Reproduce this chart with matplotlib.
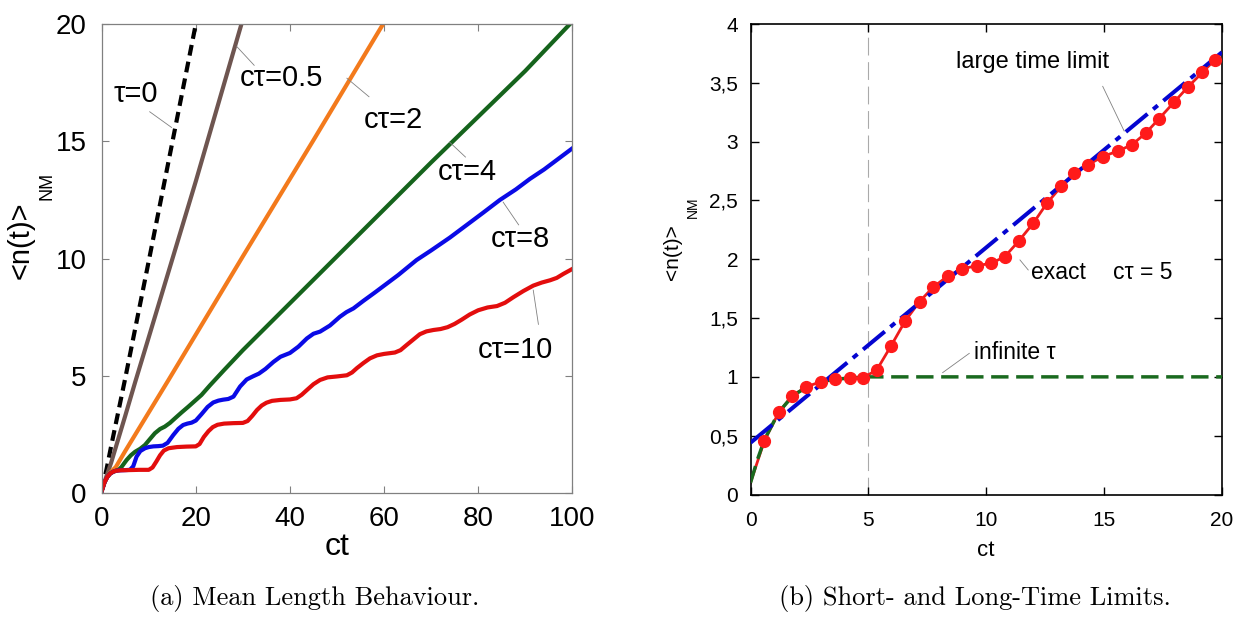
import matplotlib
matplotlib.use("Agg")
import matplotlib.pyplot as plt

plt.rcParams['font.family'] = ['Liberation Sans', 'DejaVu Sans']

# ---------------- data: panel (a) ----------------
ct_tau0 = [0, 0.5, 1, 2, 5, 10, 15, 20]
n_tau0 = [0.1, 0.55, 1.0, 2.0, 4.9, 9.9, 14.95, 20.0]

ct_05 = [0, 0.5, 1, 2, 5, 7.1, 10, 20, 29.7]
n_05 = [0.1, 0.42, 0.72, 1.3, 3.3, 4.73, 6.65, 13.3, 20.0]

ct_2 = [0, 0.6, 1.2, 1.8, 2.4, 3, 5, 14.2, 30, 45, 59.8]
n_2 = [0.1, 0.47, 0.72, 0.88, 1.0, 1.12, 1.8, 4.83, 10.1, 15.05, 20.0]

ct_4 = [0, 0.6, 1.2, 1.8, 2.4, 3, 3.6, 4.2, 5.3, 6.2, 7.1, 8.2, 9.2, 10.2, 11.3,
        12.4, 13.4, 14.5, 15.6, 17, 18.4, 19.8, 21.2, 23, 26, 30, 40, 50, 60, 70,
        80, 90, 99.5]
n_4 = [0.1, 0.47, 0.7, 0.84, 0.915, 0.96, 1.0, 1.12, 1.42, 1.62, 1.77, 1.9, 2.06,
       2.3, 2.56, 2.74, 2.84, 3.0, 3.2, 3.45, 3.69, 3.94, 4.19, 4.6, 5.25, 6.1,
       8.1, 10.1, 12.1, 14.1, 16.05, 18.0, 20.0]

ct_8 = [0, 0.6, 1.2, 1.8, 2.4, 3, 4, 5.2, 6, 6.7, 7.4, 8.2, 9.2, 10, 11, 12, 13,
        14, 15.2, 16.3, 17.3, 18.2, 19.1, 20, 21.2, 22.5, 23.7, 24.8, 25.8, 26.9,
        28, 29.4, 30.8, 32.2, 33.4, 34.8, 36.5, 38, 40, 41.8, 43.6, 45, 46.4,
        48.5, 50.6, 52, 53.5, 55.6, 58, 60, 63, 66.9, 70, 74, 78, 81, 84.6, 88,
        91, 94, 97, 100]
n_8 = [0.1, 0.47, 0.7, 0.84, 0.915, 0.96, 0.98, 0.99, 1.0, 1.15, 1.56, 1.8, 1.92,
       1.97, 2.0, 2.01, 2.03, 2.15, 2.48, 2.75, 2.91, 2.97, 3.01, 3.1, 3.37, 3.68,
       3.87, 3.95, 3.99, 4.02, 4.12, 4.55, 4.85, 4.99, 5.1, 5.3, 5.6, 5.82, 5.98,
       6.25, 6.6, 6.8, 6.89, 7.15, 7.52, 7.72, 7.88, 8.2, 8.55, 8.85, 9.3, 9.94,
       10.35, 10.9, 11.5, 11.95, 12.5, 12.95, 13.4, 13.8, 14.25, 14.7]

ct_10 = [0, 0.6, 1.2, 1.8, 2.4, 3, 4, 6, 8, 10, 10.8, 11.6, 12.4, 13.2, 14.2, 16,
         18, 20, 20.8, 21.7, 22.7, 23.6, 24.6, 26, 28, 30, 31, 32, 33, 34, 35,
         36.2, 38, 40, 41.4, 42.5, 43.6, 45, 46.4, 48, 50, 52.1, 53.2, 54.2, 55.6,
         57, 58.5, 60, 62.3, 63.5, 64.8, 66.2, 67.6, 69, 70.5, 72, 73.5, 75, 76.5,
         78.2, 80, 82, 84, 85.7, 87.5, 89.6, 91.7, 93.5, 95.3, 96.7, 98.1, 100]
n_10 = [0.1, 0.47, 0.7, 0.84, 0.915, 0.96, 0.98, 0.99, 1.0, 1.0, 1.1, 1.35, 1.62,
        1.82, 1.92, 1.97, 1.99, 2.0, 2.1, 2.4, 2.65, 2.82, 2.92, 2.97, 2.99, 3.0,
        3.08, 3.3, 3.55, 3.74, 3.86, 3.94, 3.98, 4.0, 4.05, 4.2, 4.4, 4.65, 4.83,
        4.94, 4.98, 5.03, 5.15, 5.33, 5.55, 5.75, 5.88, 5.94, 6.0, 6.1, 6.32, 6.55,
        6.78, 6.9, 6.96, 7.0, 7.08, 7.22, 7.4, 7.62, 7.8, 7.92, 7.98, 8.12, 8.36,
        8.62, 8.85, 8.98, 9.08, 9.18, 9.35, 9.56]

labels_a = ["τ=0", "cτ=0.5", "cτ=2", "cτ=4", "cτ=8", "cτ=10"]
xticks_a = [0, 20, 40, 60, 80, 100]
yticks_a = [0, 5, 10, 15, 20]

# ---------------- data: panel (b) ----------------
ct_exact = [0, 0.59, 1.2, 1.75, 2.36, 2.97, 3.6, 4.2, 4.76, 5.35, 5.96, 6.57, 7.17,
            7.75, 8.36, 8.97, 9.59, 10.2, 10.78, 11.37, 12.0, 12.57, 13.18, 13.73,
            14.33, 14.95, 15.59, 16.17, 16.76, 17.33, 17.97, 18.56, 19.17, 19.7]
n_exact = [0.1, 0.458, 0.698, 0.836, 0.915, 0.958, 0.978, 0.992, 0.992, 1.057,
           1.263, 1.478, 1.64, 1.763, 1.856, 1.919, 1.944, 1.966, 2.02, 2.153,
           2.308, 2.475, 2.619, 2.735, 2.805, 2.873, 2.921, 2.972, 3.071, 3.195,
           3.336, 3.466, 3.588, 3.698]

ct_inf = [0, 0.3, 0.6, 1.2, 1.8, 2.4, 3, 3.6, 4.2, 5, 20]
n_inf = [0.1, 0.3, 0.47, 0.7, 0.84, 0.915, 0.96, 0.98, 0.99, 1.0, 1.0]

ct_large = [0, 20]
n_large = [0.44, 3.76]

tau_b = 5
xticks_b = [0, 5, 10, 15, 20]
yticks_b = [0, 0.5, 1, 1.5, 2, 2.5, 3, 3.5, 4]
yticklabels_b = ["0", "0,5", "1", "1,5", "2", "2,5", "3", "3,5", "4"]

# ---------------- figure ----------------
fig = plt.figure(figsize=(12.47, 6.19), dpi=100)
W, H = 1247, 619

def px_axes(x0, y0, x1, y1):
    return fig.add_axes([x0 / W, 1 - y1 / H, (x1 - x0) / W, (y1 - y0) / H])

# ---- panel (a)
ax1 = px_axes(101.7, 24, 572.3, 493.3)
ax1.plot(ct_tau0, n_tau0, color='black', lw=3, linestyle=(0, (2.6, 1.5)),
         dash_capstyle='butt')
ax1.plot(ct_05, n_05, color='#6e5550', lw=3)
ax1.plot(ct_2, n_2, color='#f37a1c', lw=3)
ax1.plot(ct_4, n_4, color='#15631c', lw=3)
ax1.plot(ct_8, n_8, color='#0a0ae6', lw=3)
ax1.plot(ct_10, n_10, color='#e30d0d', lw=3)

ax1.set_xlim(0, 100)
ax1.set_ylim(0, 20)
ax1.set_xticks(xticks_a)
ax1.set_yticks(yticks_a)
ax1.tick_params(direction='in', length=5, width=0.8, color='#808080',
                labelsize=20, top=True, right=True)
ax1.tick_params(axis='x', pad=9)
ax1.tick_params(axis='y', pad=11)
for s in ax1.spines.values():
    s.set_color('#808080')
    s.set_linewidth(0.9)
ax1.set_xlabel('ct', fontsize=23, labelpad=0)
ax1.set_ylabel('<n(t)>', fontsize=21, labelpad=4)
ax1.yaxis.set_label_coords(-0.142, 0.54)
ax1.text(-0.117, 0.655, 'NM', transform=ax1.transAxes, rotation=90,
         fontsize=13, ha='center', va='center')

# annotations (text pos, leader start, leader end) in data coords
ann_a = [((7.2, 17.0), (10.2, 16.26), (14.85, 15.59)),
         ((38.2, 17.68), (28.7, 19.04), (32.4, 18.24)),
         ((61.9, 15.9), (52.1, 17.69), (56.8, 16.9)),
         ((77.6, 13.7), (73.9, 14.97), (77.3, 14.33)),
         ((89.0, 10.84), (85.3, 12.41), (88.6, 11.44)),
         ((88.0, 6.12), (91.7, 8.66), (92.8, 7.2))]
for lab, (tp, l0, l1) in zip(labels_a, ann_a):
    ax1.text(tp[0], tp[1], lab, fontsize=21, ha='center', va='center')
    ax1.plot([l0[0], l1[0]], [l0[1], l1[1]], color='#808080', lw=0.6)

# ---- panel (b)
ax2 = px_axes(750.5, 24, 1222, 494.5)
ax2.axvline(tau_b, color='#aaaaaa', lw=0.8, linestyle=(0, (16, 6)), zorder=1)
ax2.plot(ct_exact, n_exact, color='#ee1c1c', lw=2, zorder=2)
ax2.plot(ct_inf, n_inf, color='#1a6a1f', lw=2.5, linestyle=(0, (5, 2.2)), zorder=3)
ax2.plot(ct_large, n_large, color='#0505d0', lw=2.9,
         linestyle=(0, (7, 1.8, 1.5, 1.8)), zorder=3)
ax2.plot(ct_exact[1:], n_exact[1:], linestyle='none', marker='o', ms=8.5,
         color='#ff1a1a', mec='#ff1a1a', zorder=4)

ax2.set_xlim(0, 20)
ax2.set_ylim(0, 4)
ax2.set_xticks(xticks_b)
ax2.set_yticks(yticks_b)
ax2.set_yticklabels(yticklabels_b)
ax2.tick_params(direction='in', length=6, width=1, labelsize=15,
                top=True, right=True)
ax2.tick_params(axis='x', pad=12)
ax2.tick_params(axis='y', pad=9)
for s in ax2.spines.values():
    s.set_linewidth(1.2)
ax2.set_xlabel('ct', fontsize=16, labelpad=7)
ax2.set_ylabel('<n(t)>', fontsize=15, labelpad=4)
ax2.yaxis.set_label_coords(-0.145, 0.515)
ax2.text(-0.122, 0.61, 'NM', transform=ax2.transAxes, rotation=90,
         fontsize=10, ha='center', va='center')

ax2.text(11.98, 3.68, 'large time limit', fontsize=17, ha='center', va='center')
ax2.plot([14.94, 15.85], [3.47, 3.09], color='#808080', lw=0.6)
ax2.text(13.05, 1.89, 'exact', fontsize=16.5, ha='center', va='center')
ax2.plot([11.43, 11.78], [1.994, 1.909], color='#808080', lw=0.6)
ax2.text(16.65, 1.89, 'cτ = 5', fontsize=16.5, ha='center', va='center')
ax2.text(11.2, 1.21, 'infinite τ', fontsize=16.5, ha='center', va='center')
ax2.plot([9.28, 8.15], [1.20, 1.036], color='#808080', lw=0.6)

# captions
fig.text(315 / W, 1 - 598 / H, '(a) Mean Length Behaviour.', family='cmr10',
         fontsize=19, ha='center', va='center')
fig.text(975 / W, 1 - 598 / H, '(b) Short- and Long-Time Limits.', family='cmr10',
         fontsize=19, ha='center', va='center')

fig.savefig('out.png', dpi=100)
